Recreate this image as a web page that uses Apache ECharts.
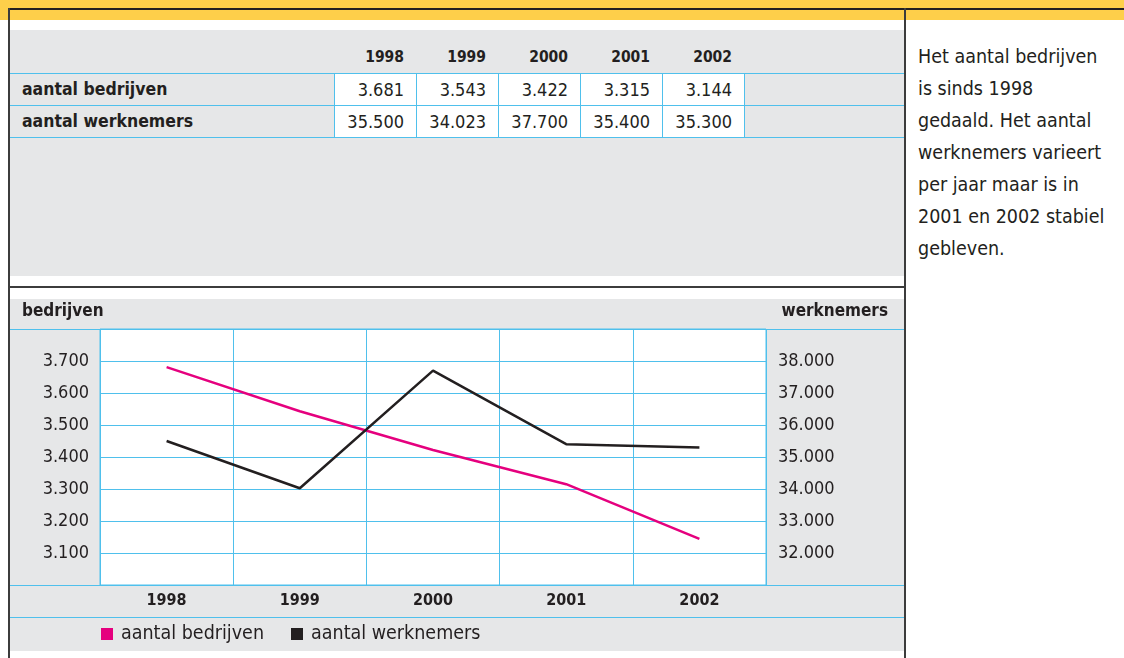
<!DOCTYPE html>
<html>
<head>
<meta charset="utf-8">
<script src="https://cdn.jsdelivr.net/npm/echarts@6/dist/echarts.min.js"></script>
<style>
  body { margin: 0; width: 1124px; height: 658px; background: #fff; position: relative; overflow: hidden;
         font-family: "Liberation Sans Narrow", "DejaVu Sans Condensed", Roboto, sans-serif; color: #231f20; }
  .abs { position: absolute; }
  #yellow { left: 0; top: 0; width: 1124px; height: 20px; background: #fecf4a; }
  #topline { left: 8px; top: 8px; width: 1116px; height: 2px; background: #231f20; }
  #leftline { left: 8px; top: 8px; width: 2px; height: 650px; background: #3c3c3c; }
  #rightline { left: 904px; top: 8px; width: 2px; height: 650px; background: #3c3c3c; }
  #panel1 { left: 10px; top: 30px; width: 894px; height: 246px; background: #e6e7e8; }
  #midline { left: 10px; top: 286px; width: 894px; height: 2px; background: #3c3c3c; }
  .hline { position: absolute; left: 0; width: 894px; height: 1px; background: #4fc0ec; }
  .vline { position: absolute; width: 1px; height: 64px; top: 43px; background: #4fc0ec; }
  .cell { position: absolute; width: 82px; height: 31px; line-height: 31px; background: #fff;
          text-align: right; box-sizing: border-box; padding-right: 12px; font-size: 18px; }
  .year { position: absolute; width: 82px; text-align: right; box-sizing: border-box; padding-right: 12px;
          font-weight: bold; font-size: 15.5px; top: 16px; line-height: 22px; }
  .rowlab { position: absolute; left: 12px; font-weight: bold; font-size: 17.5px; line-height: 31px; }
  #note { left: 918px; top: 41px; width: 206px; font-size: 19.5px; line-height: 32px; white-space: nowrap; }
  #chart { left: 10px; top: 299px; width: 894px; height: 352px; }
</style>
</head>
<body>
<div class="abs" id="yellow"></div>
<div class="abs" id="topline"></div>
<div class="abs" id="panel1"></div>
<div class="abs" id="midline"></div>
<div class="abs" id="leftline"></div>
<div class="abs" id="rightline"></div>
<div class="abs" id="note">Het aantal bedrijven<br>is sinds 1998<br>gedaald. Het aantal<br>werknemers varieert<br>per jaar maar is in<br>2001 en 2002 stabiel<br>gebleven.</div>
<div class="abs" id="chart"></div>
<script>
const years = ["1998", "1999", "2000", "2001", "2002"];
const bedrijven = [3681, 3543, 3422, 3315, 3144];
const werknemers = [35500, 34023, 37700, 35400, 35300];
const rowLabels = ["aantal bedrijven", "aantal werknemers"];
const seriesNames = ["aantal bedrijven", "aantal werknemers"];

const blue = "#4fc0ec";
const ink = "#231f20";
const font = '"Liberation Sans Narrow", "DejaVu Sans Condensed", Roboto, sans-serif';

function fmt(v) {
  return String(v).replace(/\B(?=(\d{3})+(?!\d))/g, ".");
}

// tabel bovenaan
const panel = document.getElementById("panel1");
const colX = [324, 406, 488, 570, 652];
[43, 75, 107].forEach(function (y) {
  const l = document.createElement("div");
  l.className = "hline";
  l.style.top = y + "px";
  panel.appendChild(l);
});
years.forEach(function (y, i) {
  const h = document.createElement("div");
  h.className = "year";
  h.style.left = colX[i] + "px";
  h.textContent = y;
  panel.appendChild(h);
});
[bedrijven, werknemers].forEach(function (row, r) {
  const lab = document.createElement("div");
  lab.className = "rowlab";
  lab.style.top = (44 + r * 32) + "px";
  lab.textContent = rowLabels[r];
  panel.appendChild(lab);
  row.forEach(function (v, i) {
    const c = document.createElement("div");
    c.className = "cell";
    c.style.left = colX[i] + "px";
    c.style.top = (44 + r * 32) + "px";
    c.textContent = fmt(v);
    panel.appendChild(c);
  });
});
colX.concat([734]).forEach(function (x) {
  const v = document.createElement("div");
  v.className = "vline";
  v.style.left = x + "px";
  panel.appendChild(v);
});

// grafiek
const chart = echarts.init(document.getElementById("chart"));
const option = {
  backgroundColor: "#e6e7e8",
  animation: false,
  textStyle: { fontFamily: font, color: ink },
  grid: {
    left: 90,
    right: 138,
    top: 30,
    bottom: 66,
    show: true,
    backgroundColor: "#fff",
    borderColor: blue,
    borderWidth: 1
  },
  legend: {
    left: 91,
    top: 325,
    padding: 0,
    icon: "rect",
    itemWidth: 12,
    itemHeight: 12,
    itemGap: 27,
    data: seriesNames,
    textStyle: { fontFamily: font, fontSize: 19.5, color: ink, padding: [0, 0, 0, 3] }
  },
  graphic: [
    { type: "line", shape: { x1: 0, y1: 30.5, x2: 894, y2: 30.5 }, style: { stroke: blue, lineWidth: 1 } },
    { type: "line", shape: { x1: 0, y1: 286.5, x2: 894, y2: 286.5 }, style: { stroke: blue, lineWidth: 1 } },
    { type: "line", shape: { x1: 0, y1: 318.5, x2: 894, y2: 318.5 }, style: { stroke: blue, lineWidth: 1 } },
    { type: "text", left: 12, top: 4, style: { text: "bedrijven", font: "bold 17px " + font, fill: ink } },
    { type: "text", right: 16, top: 4, style: { text: "werknemers", font: "bold 17px " + font, fill: ink } }
  ],
  xAxis: {
    type: "category",
    data: years,
    boundaryGap: true,
    axisLine: { show: false },
    axisTick: { show: false },
    splitLine: { show: true, lineStyle: { color: blue, width: 1 } },
    axisLabel: { margin: 8, fontSize: 16, fontWeight: "bold", color: ink, fontFamily: font }
  },
  yAxis: [
    {
      type: "value",
      min: 3000,
      max: 3800,
      interval: 100,
      axisLine: { show: false },
      axisTick: { show: false },
      splitLine: { show: true, lineStyle: { color: blue, width: 1 } },
      axisLabel: {
        margin: 11,
        fontSize: 18,
        color: ink,
        fontFamily: font,
        formatter: function (v) { return v === 3000 || v === 3800 ? "" : fmt(v); }
      }
    },
    {
      type: "value",
      min: 31000,
      max: 39000,
      interval: 1000,
      axisLine: { show: false },
      axisTick: { show: false },
      splitLine: { show: false },
      axisLabel: {
        margin: 12,
        fontSize: 18,
        color: ink,
        fontFamily: font,
        formatter: function (v) { return v === 31000 || v === 39000 ? "" : fmt(v); }
      }
    }
  ],
  series: [
    {
      name: seriesNames[0],
      type: "line",
      yAxisIndex: 0,
      data: bedrijven,
      symbol: "none",
      color: "#e5007e",
      lineStyle: { color: "#e5007e", width: 2.5 }
    },
    {
      name: seriesNames[1],
      type: "line",
      yAxisIndex: 1,
      data: werknemers,
      symbol: "none",
      color: ink,
      lineStyle: { color: ink, width: 2.5 }
    }
  ]
};
chart.setOption(option);
</script>
</body>
</html>
